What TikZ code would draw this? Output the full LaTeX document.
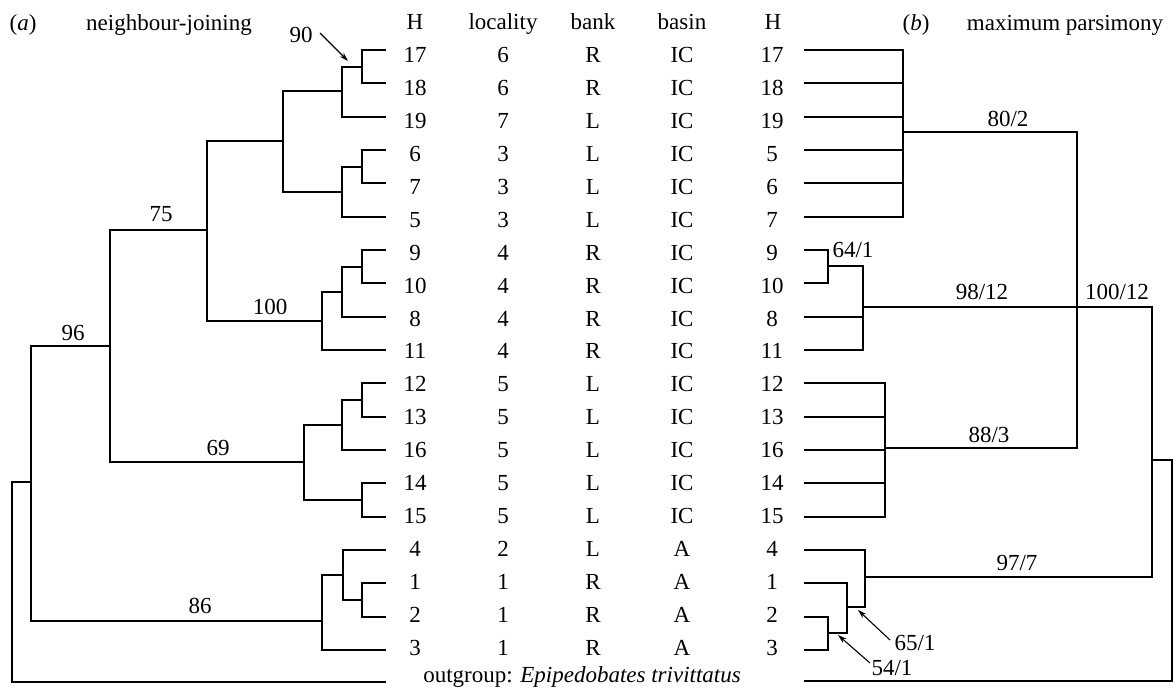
\documentclass[tikz,border=0pt]{standalone}
\usepackage{fontspec}
\setmainfont{Liberation Serif}
\usetikzlibrary{arrows.meta}
\begin{document}
\begin{tikzpicture}[x=1pt,y=-1pt,
  txt/.style={font=\fontsize{23}{27}\selectfont, inner sep=0pt, anchor=base},
  br/.style={line width=2pt, line cap=rect, line join=miter},
  pointer/.style={line width=1.1pt, -{Stealth[length=9pt,width=5.5pt]}}]
\useasboundingbox (0,0) rectangle (1176,695);

% ---- table of leaf labels ----
\foreach \h/\loc/\bk/\bs/\hr [count=\i from 0] in
 {17/6/R/IC/17, 18/6/R/IC/18, 19/7/L/IC/19, 6/3/L/IC/5, 7/3/L/IC/6, 5/3/L/IC/7,
  9/4/R/IC/9, 10/4/R/IC/10, 8/4/R/IC/8, 11/4/R/IC/11, 12/5/L/IC/12, 13/5/L/IC/13,
  16/5/L/IC/16, 14/5/L/IC/14, 15/5/L/IC/15, 4/2/L/A/4, 1/1/R/A/1, 2/1/R/A/2, 3/1/R/A/3}
{
  \pgfmathsetmacro{\yb}{62.25+32.97*\i}
  \pgfmathsetmacro{\yl}{50+33.333*\i}
  \node[txt] (hl\i) at (415,\yb) {\h};
  \node[txt] (lo\i) at (503,\yb) {\loc};
  \node[txt] (bk\i) at (593,\yb) {\bk};
  \node[txt] (bs\i) at (682,\yb) {\bs};
  \node[txt] (hr\i) at (772,\yb) {\hr};
  \coordinate (L\i) at (385,\yl);
  \coordinate (R\i) at (805,\yl);
}
\coordinate (LOG) at (385,682);
\coordinate (ROG) at (805,681);
\node[txt] (og) at (582,682) {outgroup: \textit{Epipedobates trivittatus}};

% ---- headers ----
\node[txt] (la) at (23,31) {(\textit{a})};
\node[txt] (lnj) at (169,31) {neighbour-joining};
\node[txt] (lb) at (916,31) {(\textit{b})};
\node[txt] (lmp) at (1065,31) {maximum parsimony};
\node[txt] (hH1) at (415,30) {H};
\node[txt] (hloc) at (503,30) {locality};
\node[txt] (hbank) at (593,30) {bank};
\node[txt] (hbasin) at (682,30) {basin};
\node[txt] (hH2) at (773,30) {H};

% ---- left tree (neighbour-joining) ----
\coordinate (n1718) at (362,66.7);
\coordinate (n19) at (342,91);
\coordinate (n67) at (362,166.7);
\coordinate (n5) at (342,192);
\coordinate (nA) at (283,141.5);
\coordinate (n910) at (362,266.7);
\coordinate (n8) at (342,291.7);
\coordinate (n11) at (322,321);
\coordinate (n75) at (207,230);
\coordinate (n1213) at (362,400);
\coordinate (n16) at (342,425);
\coordinate (n1415) at (362,500);
\coordinate (n69) at (304,462);
\coordinate (n96) at (110,346);
\coordinate (n12) at (362,600);
\coordinate (n4) at (343,575);
\coordinate (n86) at (322,621);
\coordinate (nB) at (31,482);
\coordinate (nR) at (12,582);

\draw[br] (L0) -| (n1718);  \draw[br] (L1) -| (n1718);
\draw[br] (n1718) -| (n19); \draw[br] (L2) -| (n19);
\draw[br] (L3) -| (n67);    \draw[br] (L4) -| (n67);
\draw[br] (n67) -| (n5);    \draw[br] (L5) -| (n5);
\draw[br] (n19) -| (nA);    \draw[br] (n5) -| (nA);
\draw[br] (L6) -| (n910);   \draw[br] (L7) -| (n910);
\draw[br] (n910) -| (n8);   \draw[br] (L8) -| (n8);
\draw[br] (n8) -| (n11);    \draw[br] (L9) -| (n11);
\draw[br] (nA) -| (n75);    \draw[br] (n11) -| (n75);
\draw[br] (L10) -| (n1213); \draw[br] (L11) -| (n1213);
\draw[br] (n1213) -| (n16); \draw[br] (L12) -| (n16);
\draw[br] (L13) -| (n1415); \draw[br] (L14) -| (n1415);
\draw[br] (n16) -| (n69);   \draw[br] (n1415) -| (n69);
\draw[br] (n75) -| (n96);   \draw[br] (n69) -| (n96);
\draw[br] (L16) -| (n12);   \draw[br] (L17) -| (n12);
\draw[br] (L15) -| (n4);    \draw[br] (n12) -| (n4);
\draw[br] (n4) -| (n86);    \draw[br] (L18) -| (n86);
\draw[br] (n96) -| (nB);    \draw[br] (n86) -| (nB);
\draw[br] (nB) -| (nR);     \draw[br] (LOG) -| (nR);

% ---- right tree (maximum parsimony) ----
\coordinate (p1) at (903,132);
\coordinate (p910) at (828,266);
\coordinate (p8) at (863,307);
\coordinate (p2) at (885,448);
\coordinate (p3) at (1077,307);
\coordinate (p100) at (1152,460);
\coordinate (p23) at (828,633);
\coordinate (p1b) at (847,607);
\coordinate (p4) at (865,577);
\coordinate (pR) at (1172,570);

\foreach \i in {0,...,5} {\draw[br] (R\i) -| (p1);}
\draw[br] (R6) -| (p910);   \draw[br] (R7) -| (p910);
\draw[br] (p910) -| (p8);   \draw[br] (R8) -| (p8);  \draw[br] (R9) -| (p8);
\foreach \i in {10,...,14} {\draw[br] (R\i) -| (p2);}
\draw[br] (p1) -| (p3);     \draw[br] (p2) -| (p3);  \draw[br] (p8) -| (p3);
\draw[br] (p3) -| (p100);   \draw[br] (p4) -| (p100);
\draw[br] (R17) -| (p23);   \draw[br] (R18) -| (p23);
\draw[br] (R16) -| (p1b);   \draw[br] (p23) -| (p1b);
\draw[br] (R15) -| (p4);    \draw[br] (p1b) -| (p4);
\draw[br] (p100) -| (pR);   \draw[br] (ROG) -| (pR);

% ---- branch support labels ----
\node[txt] (s90) at (301,43) {90};
\node[txt] (s75) at (161,222) {75};
\node[txt] (s100) at (270,315) {100};
\node[txt] (s96) at (73,340) {96};
\node[txt] (s69) at (218,455) {69};
\node[txt] (s86) at (200,613) {86};
\node[txt] (s802) at (1008,127) {80/2};
\node[txt] (s641) at (853,258) {64/1};
\node[txt] (s9812) at (982,300) {98/12};
\node[txt] (s10012) at (1117,300) {100/12};
\node[txt] (s883) at (989,442) {88/3};
\node[txt] (s977) at (1017,570) {97/7};
\node[txt] (s651) at (915,650) {65/1};
\node[txt] (s541) at (892,675) {54/1};

% ---- pointer arrows ----
\coordinate (a90s) at (320,33);  \coordinate (a90t) at (348,61);
\coordinate (a65s) at (890,640); \coordinate (a65t) at (858,610);
\coordinate (a54s) at (870,663); \coordinate (a54t) at (838,635);
\draw[pointer] (a90s) -- (a90t);
\draw[pointer] (a65s) -- (a65t);
\draw[pointer] (a54s) -- (a54t);
\end{tikzpicture}
\end{document}
